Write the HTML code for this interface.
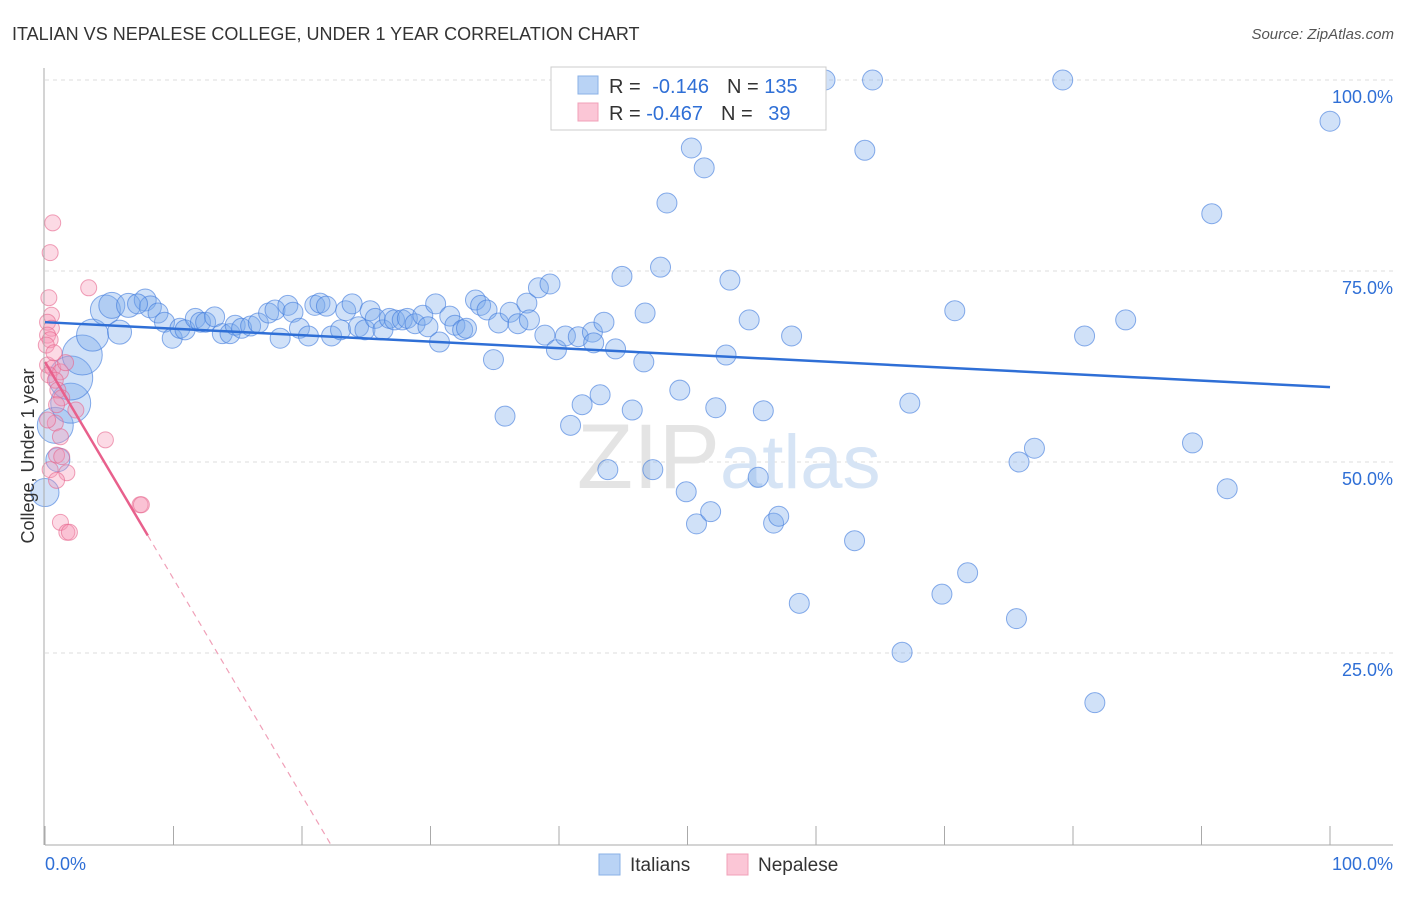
<!DOCTYPE html>
<html><head><meta charset="utf-8"><style>
body{margin:0;background:#fff;font-family:"Liberation Sans",sans-serif}
svg text{font-family:"Liberation Sans",sans-serif}
</style></head><body>
<svg id="chart" width="1406" height="892" viewBox="0 0 1406 892">
<text x="12" y="40" font-size="18" fill="#333">ITALIAN VS NEPALESE COLLEGE, UNDER 1 YEAR CORRELATION CHART</text>
<text x="1394" y="39" font-size="15" fill="#555" text-anchor="end" font-style="italic">Source: ZipAtlas.com</text>
<g id="grid"></g>
<text x="720" y="488" font-size="92" fill="#e4e4e4" text-anchor="end" font-family="Liberation Serif">ZIP</text>
<text x="720" y="488" font-size="76" fill="#d6e4f5">atlas</text>
<g id="pts"></g>
<g id="lines"></g>
<g id="axes"></g>
<text transform="translate(34,456) rotate(-90)" font-size="18" fill="#333" text-anchor="middle">College, Under 1 year</text>
<g>
<rect x="551" y="67" width="275" height="63" fill="#fff" stroke="#ccc"/>
<rect x="578" y="76" width="20" height="18" fill="#b9d3f5" stroke="#8ab0e6"/>
<rect x="578" y="103" width="20" height="18" fill="#fbc6d6" stroke="#f0a0b8"/>
<text x="609" y="93" font-size="20" fill="#333">R = <tspan fill="#2f6fd6" dx="6">-0.146</tspan><tspan dx="18" fill="#333">N = </tspan><tspan fill="#2f6fd6">135</tspan></text>
<text x="609" y="120" font-size="20" fill="#333">R = <tspan fill="#2f6fd6">-0.467</tspan><tspan dx="18" fill="#333">N = </tspan><tspan fill="#2f6fd6" dx="10">39</tspan></text>
</g>
<g>
<rect x="599" y="854" width="21" height="21" fill="#b9d3f5" stroke="#8ab0e6"/>
<text x="630" y="871" font-size="19" fill="#333">Italians</text>
<rect x="727" y="854" width="21" height="21" fill="#fbc6d6" stroke="#f0a0b8"/>
<text x="758" y="871" font-size="19" fill="#333">Nepalese</text>
</g>
</svg>
<script>
const yTicks=[25,50,75,100];
const yTickLabels=["25.0%","50.0%","75.0%","100.0%"];
const xTicks=[0,10,20,30,40,50,60,70,80,90,100];
const xEndLabels=["0.0%","100.0%"];
const italiansX=[0,1,0.8,2,2,2.9,3.7,4.7,5.8,5.2,6.5,7.8,8.2,7.2,8.8,9.3,9.9,10.5,10.9,11.7,12.1,12.5,13.2,13.8,14.4,14.8,15.3,16,16.6,17.4,17.9,18.3,18.9,19.3,19.8,20.5,21,21.4,21.9,22.3,23,23.4,23.9,24.4,24.9,25.3,25.7,26.3,26.8,27.2,27.8,28.2,28.8,29.4,29.8,30.4,30.7,31.5,31.9,32.5,32.8,33.5,33.9,34.4,34.9,35.3,35.8,36.2,36.8,37.5,37.7,38.4,38.9,39.3,39.8,40.5,40.9,41.5,41.8,42.6,42.7,43.2,43.5,43.8,44.4,44.9,45.7,46.6,46.7,47.3,47.9,49.4,49.9,50.3,50.7,51.3,51.8,52.2,54.6,48.4,53.3,53,54.8,55.5,55.9,56.7,57.1,58.1,58.7,60.7,63,63.8,64.4,66.7,67.3,69.8,70.8,71.8,75.6,75.8,77,79.2,80.9,81.7,84.1,89.3,90.8,92,100,56.4];
const italiansY=[46,50.3,54.8,57.7,61,64,66.6,69.9,67,70.5,70.5,71.2,70.3,70.7,69.5,68.3,66.2,67.5,67.3,68.8,68.3,68.3,69,66.8,66.8,67.9,67.5,67.8,68.2,69.5,69.9,66.2,70.5,69.6,67.5,66.5,70.5,70.8,70.4,66.5,67.3,69.8,70.7,67.7,67.3,69.8,68.8,67.3,68.8,68.6,68.6,68.8,68.1,69.2,67.7,70.7,65.7,69.1,67.9,67.3,67.5,71.2,70.5,69.9,63.4,68.2,56,69.6,68.1,70.8,68.6,72.8,66.6,73.3,64.7,66.5,54.8,66.4,57.5,67,65.6,58.8,68.3,49,64.8,74.3,56.8,63.1,69.5,49,75.5,59.4,46.1,91.1,41.9,88.5,43.5,57.1,97.3,83.9,73.8,64,68.6,48,56.7,42,42.9,66.5,31.5,100,39.7,90.8,100,25.1,57.7,32.7,69.8,35.5,29.5,50,51.8,100,66.5,18.5,68.6,52.5,82.5,46.5,94.6,100];
const italiansSize=[14,12,18,20,22,20,16,15,12,13,12,11,11,10,10,10,10,10,10,10,10,10,10,10,10,10,10,10,10,10,10,10,10,10,10,10,10,10,10,10,10,10,10,10,10,10,10,10,10,10,10,10,10,10,10,10,10,10,10,10,10,10,10,10,10,10,10,10,10,10,10,10,10,10,10,10,10,10,10,10,10,10,10,10,10,10,10,10,10,10,10,10,10,10,10,10,10,10,10,10,10,10,10,10,10,10,10,10,10,10,10,10,10,10,10,10,10,10,10,10,10,10,10,10,10,10,10,10,10,10,10];
const nepaleseX=[0.6,0.4,3.4,0.3,0.5,0.2,0.5,0.2,0.4,0.2,0.6,1.2,0.3,0.8,1,1.3,0.9,2.4,0.8,1.2,4.7,0.9,1.3,0.4,1.7,0.9,7.4,1.2,1.7,1.9,0.2,1.6,0.1,0.7,7.5];
const nepaleseY=[81.3,77.4,72.8,71.5,69.2,68.3,67.5,66.6,66,62.7,62.3,61.8,61.4,60.7,59.4,58.4,57.5,56.8,55.1,53.3,52.9,50.9,50.7,49,48.6,47.6,44.4,42.1,40.8,40.8,55.5,63,65.3,64.3,44.4];
const italiansTrend=[68.3,59.8];
const nepaleseTrend=[63.1,-2.84];
const NS="http://www.w3.org/2000/svg";
const X=v=>45+v*12.85, Y=v=>844-v*7.64;
function mk(t,a,p){const e=document.createElementNS(NS,t);for(const k in a)e.setAttribute(k,a[k]);p.appendChild(e);return e;}
const grid=document.getElementById('grid'),axes=document.getElementById('axes'),pts=document.getElementById('pts'),lines=document.getElementById('lines');
yTicks.forEach((v,i)=>{
 const l=mk('line',{x1:45,x2:1393,y1:Y(v),y2:Y(v),stroke:'#ddd','stroke-dasharray':'4,4'},grid);
 
 
 const t=mk('text',{x:1393,y:Y(v)+23,'font-size':18,fill:'#2f6fd6','text-anchor':'end'},axes);t.textContent=yTickLabels[i];
 
 
});
const ax=mk('line',{x1:45,x2:1393,y1:845,y2:845,stroke:'#aaa'},axes);


const ay=mk('line',{x1:44,x2:44,y1:68,y2:845,stroke:'#aaa'},axes);


xTicks.forEach(v=>{const t=mk('line',{x1:X(v),x2:X(v),y1:826,y2:845,stroke:'#aaa'},axes);
 
 });
[[0,'start'],[100,'end']].forEach((a,i)=>{const t=mk('text',{x:a[0]==0?45:1393,y:870,'font-size':18,fill:'#2f6fd6','text-anchor':a[1]},axes);t.textContent=xEndLabels[i];
 
 });
italiansX.forEach((x,i)=>{const c=mk('circle',{cx:X(x),cy:Y(Math.min(italiansY[i],100)),r:italiansSize[i]||10,fill:'rgba(120,170,235,0.35)',stroke:'rgba(60,120,220,0.6)','stroke-width':1},pts);
 
 });
nepaleseX.forEach((x,i)=>{const c=mk('circle',{cx:X(x),cy:Y(nepaleseY[i]),r:8,fill:'rgba(245,150,180,0.35)',stroke:'rgba(230,100,140,0.6)','stroke-width':1},pts);
 
 });
const bl=mk('line',{x1:X(0),y1:Y(italiansTrend[0]),x2:X(100),y2:Y(italiansTrend[1]),stroke:'#2f6fd6','stroke-width':2.5},lines);


const pe=8, pz=-nepaleseTrend[0]/nepaleseTrend[1];
const pl=mk('line',{x1:X(0),y1:Y(nepaleseTrend[0]),x2:X(pe),y2:Y(nepaleseTrend[0]+nepaleseTrend[1]*pe),stroke:'#e8608c','stroke-width':2.5},lines);


const pd=mk('line',{x1:X(pe),y1:Y(nepaleseTrend[0]+nepaleseTrend[1]*pe),x2:X(pz),y2:Y(0),stroke:'#f0a0b8','stroke-width':1.2,'stroke-dasharray':'6,5'},lines);


</script>
</body></html>
